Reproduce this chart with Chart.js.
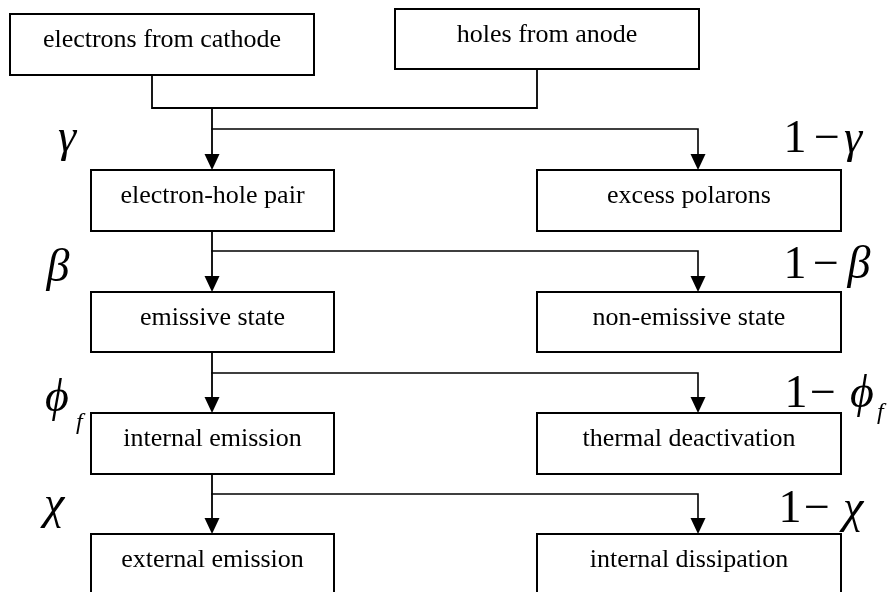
<!DOCTYPE html>
<html>
<head>
<meta charset="utf-8">
<script src="https://cdn.jsdelivr.net/npm/chart.js"></script>
<style>
    html, body { margin: 0; padding: 0; background: #fff; }
    #wrap { width: 894px; height: 592px; }
</style>
</head>
<body>
<div id="wrap"><canvas id="myChart"></canvas></div>
<script>
// texts
const topLabels = ['electrons from cathode', 'holes from anode'];
const leftLabels = ['electron-hole pair', 'emissive state', 'internal emission', 'external emission'];
const rightLabels = ['excess polarons', 'non-emissive state', 'thermal deactivation', 'internal dissipation'];
const probSymbols = ['γ', 'β', 'ϕ', 'χ'];
const probSubscripts = ['', '', 'f', ''];

// diagram layout, in diagram units (the scales run 0..894 and 0..592)
const topBoxX = [[10, 314], [395, 699]];
const topBoxY = [[14, 75], [9, 69]];
const leftColX = [91, 334];
const rightColX = [537, 841];
const rowTop = [170, 292, 413, 534];
const rowBottom = [231, 352, 474, 610];
const splitY = [129, 251, 373, 494];
const mergeY = 108;
const feedX = [152, 537];
const stemX = 212;
const branchX = 698;

// label placement
const leftSymX = [67, 58, 57, 54];
const leftSymY = [151, 281, 411, 518];
const leftSubX = [0, 0, 76, 0];
const leftSubY = [0, 0, 429, 0];
const rightOneX = [795, 795, 796, 790];
const rightMinusX = [827, 826, 823, 817];
const rightSymX = [853, 859, 862, 853];
const rightSymY = [152, 278, 407, 522];
const rightSubX = [0, 0, 877, 0];
const rightSubY = [0, 0, 419, 0];

function rect(x0, x1, y0, y1) {
    return [{x: x0, y: y0}, {x: x1, y: y0}, {x: x1, y: y1}, {x: x0, y: y1}, {x: x0, y: y0}];
}

function lineSet(points, width) {
    return {
        data: points,
        showLine: true,
        borderColor: '#000',
        borderWidth: width,
        pointRadius: 0,
        borderJoinStyle: 'miter',
        borderCapStyle: 'square',
        tension: 0,
        clip: false
    };
}

const datasets = [];
const boxes = [];

for (let i = 0; i < 2; i++) {
    datasets.push(lineSet(rect(topBoxX[i][0], topBoxX[i][1], topBoxY[i][0], topBoxY[i][1]), 2));
    boxes.push({ label: topLabels[i], x0: topBoxX[i][0], x1: topBoxX[i][1], y0: topBoxY[i][0] });
}
for (let i = 0; i < 4; i++) {
    datasets.push(lineSet(rect(leftColX[0], leftColX[1], rowTop[i], rowBottom[i]), 2));
    datasets.push(lineSet(rect(rightColX[0], rightColX[1], rowTop[i], rowBottom[i]), 2));
    boxes.push({ label: leftLabels[i], x0: leftColX[0], x1: leftColX[1], y0: rowTop[i] });
    boxes.push({ label: rightLabels[i], x0: rightColX[0], x1: rightColX[1], y0: rowTop[i] });
}

// the two inputs joined
datasets.push(lineSet([
    {x: feedX[0], y: topBoxY[0][1]}, {x: feedX[0], y: mergeY},
    {x: feedX[1], y: mergeY}, {x: feedX[1], y: topBoxY[1][1]}
], 1.8));

const arrows = [];
for (let i = 0; i < 4; i++) {
    const from = i == 0 ? mergeY : rowBottom[i - 1];
    datasets.push(lineSet([{x: stemX, y: from}, {x: stemX, y: rowTop[i] - 4}], 1.8));
    datasets.push(lineSet([
        {x: stemX, y: splitY[i]}, {x: branchX, y: splitY[i]}, {x: branchX, y: rowTop[i] - 4}
    ], 1.6));
    arrows.push({x: stemX, y: rowTop[i]});
    arrows.push({x: branchX, y: rowTop[i]});
}

const serif = "'Liberation Serif', 'Times New Roman', serif";

const drawings = {
    id: 'drawings',
    afterDatasetsDraw(chart) {
        const c = chart.ctx;
        const sx = chart.scales.x;
        const sy = chart.scales.y;
        c.save();
        c.fillStyle = '#000';

        arrows.forEach(a => {
            const px = sx.getPixelForValue(a.x);
            const py = sy.getPixelForValue(a.y);
            c.beginPath();
            c.moveTo(px, py);
            c.lineTo(px - 7.5, py - 16);
            c.lineTo(px + 7.5, py - 16);
            c.closePath();
            c.fill();
        });

        c.font = '26px ' + serif;
        c.textAlign = 'center';
        c.textBaseline = 'middle';
        boxes.forEach(b => {
            const px = sx.getPixelForValue((b.x0 + b.x1) / 2);
            const py = sy.getPixelForValue(b.y0 + 26);
            c.fillText(b.label, px, py);
        });

        c.textBaseline = 'alphabetic';
        for (let i = 0; i < 4; i++) {
            // left: p
            c.font = 'italic 46px ' + serif;
            c.textAlign = 'center';
            c.fillText(probSymbols[i], sx.getPixelForValue(leftSymX[i]), sy.getPixelForValue(leftSymY[i]));

            // right: 1 - p
            const py = sy.getPixelForValue(rightSymY[i]);
            c.font = '46px ' + serif;
            c.fillText('1', sx.getPixelForValue(rightOneX[i]), py);
            c.fillText('\u2212', sx.getPixelForValue(rightMinusX[i]), py);
            c.font = 'italic 46px ' + serif;
            c.fillText(probSymbols[i], sx.getPixelForValue(rightSymX[i]), py);

            if (probSubscripts[i]) {
                c.font = 'italic 24px ' + serif;
                c.textAlign = 'left';
                c.fillText(probSubscripts[i], sx.getPixelForValue(leftSubX[i]), sy.getPixelForValue(leftSubY[i]));
                c.fillText(probSubscripts[i], sx.getPixelForValue(rightSubX[i]), sy.getPixelForValue(rightSubY[i]));
            }
        }
        c.restore();
    }
};

const ctx = document.getElementById('myChart');

new Chart(ctx, {
    type: 'scatter',
    data: { datasets: datasets },
    options: {
        responsive: true,
        maintainAspectRatio: false,
        animation: false,
        layout: { padding: 0 },
        plugins: {
            legend: { display: false },
            tooltip: { enabled: false }
        },
        scales: {
            x: { type: 'linear', min: 0, max: 894, display: false },
            y: { type: 'linear', min: 0, max: 592, reverse: true, display: false }
        }
    },
    plugins: [drawings]
});
</script>
</body>
</html>
